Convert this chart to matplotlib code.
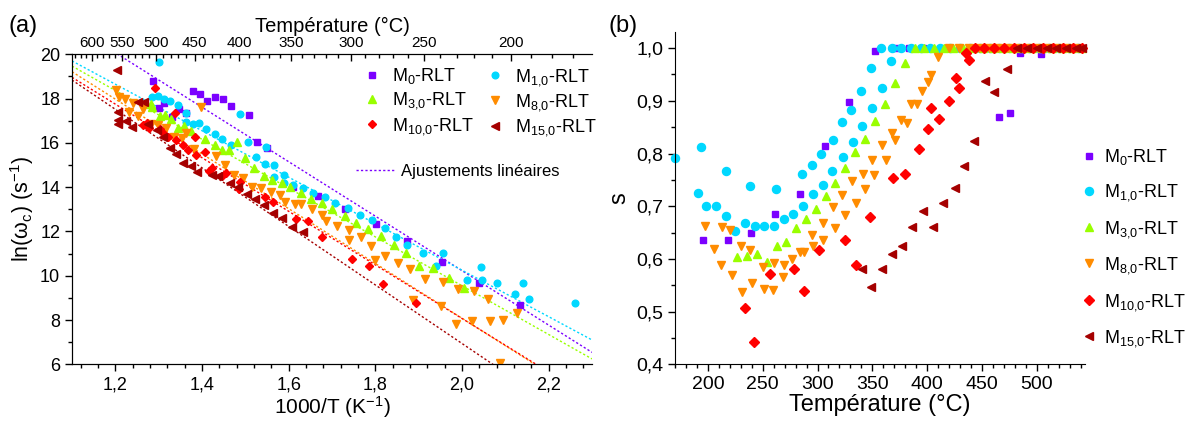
import matplotlib
matplotlib.use('Agg')
import matplotlib.pyplot as plt
from matplotlib.ticker import MultipleLocator, FuncFormatter, FixedLocator
from matplotlib.lines import Line2D
import numpy as np

plt.rcParams['font.family'] = ['Liberation Sans', 'DejaVu Sans']
plt.rcParams['mathtext.default'] = 'regular'

# ---------------- data, panel (a): ln(wc) vs 1000/T ----------------
xa_m0 = [1.286, 1.300, 1.313, 1.331, 1.347, 1.364, 1.380, 1.395, 1.412, 1.431, 1.449, 1.468,
         1.508, 1.527, 1.550, 1.609, 1.668, 1.731, 1.801, 1.874, 1.953, 2.040, 2.134]
ya_m0 = [18.79, 17.58, 17.80, 17.17, 17.53, 17.36, 18.32, 18.20, 17.90, 18.07, 18.00, 17.65,
         17.26, 16.02, 15.75, 14.02, 13.61, 13.01, 12.33, 11.58, 10.63, 9.68, 8.69]

xa_m1 = [1.285, 1.298, 1.301, 1.312, 1.326, 1.344, 1.362, 1.363, 1.379, 1.392, 1.409, 1.429,
         1.447, 1.467, 1.488, 1.505, 1.525, 1.545, 1.548, 1.567, 1.567, 1.590, 1.590, 1.610,
         1.632, 1.657, 1.683, 1.708, 1.737, 1.765, 1.793, 1.822, 1.848, 1.873, 1.911, 1.940,
         1.957, 2.011, 2.043, 2.046, 2.080, 2.123, 2.141, 2.154, 2.261]
ya_m1 = [18.09, 18.12, 19.64, 17.98, 17.91, 17.71, 17.36, 16.93, 16.84, 16.88, 16.61, 16.40,
         16.16, 15.90, 17.30, 16.05, 15.38, 15.03, 15.80, 15.00, 14.47, 14.55, 14.17, 14.10,
         13.94, 13.72, 13.54, 13.27, 13.07, 12.74, 12.51, 12.14, 11.73, 11.38, 11.04, 10.44,
         11.04, 9.80, 10.40, 9.80, 9.68, 9.16, 9.68, 8.96, 8.78]

xa_m3 = [1.282, 1.285, 1.303, 1.314, 1.328, 1.345, 1.359, 1.375, 1.407, 1.430, 1.446, 1.463,
         1.480, 1.500, 1.519, 1.542, 1.561, 1.585, 1.604, 1.629, 1.652, 1.677, 1.700, 1.729,
         1.756, 1.784, 1.812, 1.842, 1.870, 1.901, 1.932, 1.969, 2.004]
ya_m3 = [17.77, 17.63, 17.23, 17.26, 17.08, 16.69, 16.76, 16.55, 16.16, 15.90, 15.68, 15.68,
         16.05, 15.30, 14.85, 14.50, 14.32, 14.17, 13.99, 13.75, 13.46, 13.27, 13.00, 12.70,
         12.39, 12.09, 11.79, 11.39, 11.01, 10.44, 10.33, 9.88, 9.43]

xa_m8 = [1.202, 1.208, 1.222, 1.232, 1.241, 1.253, 1.263, 1.282, 1.299, 1.318, 1.336, 1.353,
         1.363, 1.382, 1.398, 1.432, 1.453, 1.473, 1.494, 1.515, 1.537, 1.560, 1.581, 1.592,
         1.614, 1.629, 1.654, 1.677, 1.685, 1.712, 1.739, 1.739, 1.766, 1.791, 1.799, 1.822,
         1.853, 1.880, 1.886, 1.915, 1.951, 1.957, 1.987, 1.990, 2.022, 2.028, 2.061, 2.064,
         2.088, 2.094, 2.127]
ya_m8 = [18.41, 18.09, 17.98, 17.41, 17.78, 17.23, 17.51, 16.85, 16.81, 16.65, 16.28, 16.20,
         16.43, 15.71, 17.60, 15.40, 14.99, 14.55, 14.40, 14.02, 13.97, 13.79, 13.64, 13.34,
         13.24, 13.22, 13.00, 12.74, 12.47, 12.24, 12.06, 11.61, 11.73, 11.34, 10.71, 10.89,
         10.56, 10.29, 8.90, 9.83, 8.63, 9.73, 7.82, 9.38, 7.97, 9.31, 8.95, 7.95,
         6.04, 8.00, 8.30]

xa_m10 = [1.264, 1.274, 1.277, 1.291, 1.303, 1.311, 1.322, 1.338, 1.339, 1.357, 1.368, 1.384,
          1.386, 1.407, 1.416, 1.423, 1.447, 1.456, 1.485, 1.488, 1.546, 1.563, 1.617, 1.645,
          1.676, 1.746, 1.786, 1.818, 1.893]
ya_m10 = [16.81, 16.91, 16.66, 18.46, 16.61, 16.43, 16.25, 17.36, 16.13, 15.90, 15.68, 16.25,
          15.45, 15.60, 14.74, 14.85, 14.50, 14.62, 13.91, 14.24, 13.57, 13.34, 12.54, 12.48,
          11.73, 10.75, 10.46, 9.62, 8.75]

xa_m15 = [1.204, 1.207, 1.207, 1.207, 1.224, 1.239, 1.253, 1.265, 1.276, 1.295, 1.311, 1.325,
          1.341, 1.356, 1.375, 1.389, 1.423, 1.438, 1.465, 1.484, 1.504, 1.523, 1.542, 1.563,
          1.585, 1.608, 1.632]
ya_m15 = [19.28, 17.41, 17.03, 16.85, 17.00, 16.70, 17.86, 17.83, 16.85, 16.58, 16.25, 15.75,
          15.50, 15.07, 14.95, 14.70, 14.55, 14.50, 14.17, 14.02, 13.69, 13.45, 13.19, 12.82,
          12.59, 12.22, 11.97]

# linear fits ln(wc) = a + b * 1000/T
fit_a = [34.83, 31.25, 31.59, 32.82, 32.27, 33.38]
fit_b = [-12.30, -10.50, -11.02, -12.37, -12.10, -13.22]

# top axis temperatures (deg C)
temp_major = [200, 250, 300, 350, 400, 450, 500, 550, 600]
temp_minor = [170, 180, 190, 210, 220, 230, 240, 260, 270, 280, 290, 310, 320, 330, 340,
              360, 370, 380, 390, 410, 420, 430, 440, 460, 470, 480, 490, 510, 520, 530,
              540, 560, 570, 580, 590, 610, 620, 630]

# ---------------- data, panel (b): s vs temperature ----------------
tb_m0 = [195.5, 218, 239.5, 261.5, 284, 307, 329, 352, 372, 383, 396, 418, 440, 466, 476,
         485, 504, 522, 540]
sb_m0 = [0.636, 0.636, 0.650, 0.686, 0.724, 0.814, 0.898, 0.994, 1.0, 1.0, 1.0, 1.0, 1.0,
         0.870, 0.876, 0.991, 0.989, 1.0, 1.0]

tb_m1 = [170, 190.8, 194, 198, 207, 216.4, 216.4, 224.6, 233.6, 238.6, 242.7, 250.8, 259.9,
         262, 269, 278, 285.5, 286.4, 294.6, 295.5, 303.6, 304.6, 313.6, 314, 322, 323, 331,
         332, 340, 340.5, 349, 350, 358, 359, 367, 367.5, 376, 385, 394, 403, 412, 421, 430,
         439, 448, 457, 466, 475, 484, 493, 502, 511, 520, 529, 538]
sb_m1 = [0.791, 0.726, 0.812, 0.701, 0.701, 0.766, 0.681, 0.653, 0.669, 0.738, 0.663, 0.662,
         0.663, 0.732, 0.675, 0.685, 0.761, 0.700, 0.778, 0.723, 0.800, 0.741, 0.767, 0.825,
         0.859, 0.794, 0.882, 0.821, 0.918, 0.852, 0.963, 0.887, 1.0, 0.925, 0.976, 1.0, 1.0,
         1.0, 1.0, 1.0, 1.0, 1.0, 1.0, 1.0, 1.0, 1.0, 1.0, 1.0, 1.0, 1.0, 1.0, 1.0, 1.0, 1.0,
         1.0]

tb_m3 = [226.8, 235.6, 244.6, 254.3, 263, 271.1, 280.2, 289.2, 298.6, 307.3, 316, 325,
         334.5, 343.5, 352.5, 361.5, 370.5, 379.5, 388.5, 397, 406, 415, 424, 433, 442, 451,
         460, 469, 478, 487, 496, 505, 514, 523, 532, 541]
sb_m3 = [0.603, 0.605, 0.609, 0.595, 0.624, 0.632, 0.659, 0.676, 0.695, 0.720, 0.744, 0.772,
         0.802, 0.828, 0.862, 0.894, 0.933, 0.971, 1.0, 1.0, 1.0, 1.0, 1.0, 1.0, 1.0, 1.0,
         1.0, 1.0, 1.0, 1.0, 1.0, 1.0, 1.0, 1.0, 1.0, 1.0]

tb_m8 = [197, 205.6, 212, 212.7, 220.6, 222, 229.8, 230.8, 238.6, 240, 250.7, 251, 259.6,
         260.5, 268.3, 269.5, 276.8, 283.6, 287.7, 294.8, 296, 305, 305, 314, 315.5, 322,
         325.5, 331.5, 335.2, 341.5, 343.5, 350, 351.5, 358.5, 362.5, 368, 371, 376.5, 382,
         385.5, 391, 395, 400.5, 403.5, 410, 419.5, 429, 438, 447, 456, 465, 474, 483, 492,
         501, 510, 519, 528, 537]
sb_m8 = [0.662, 0.618, 0.589, 0.660, 0.655, 0.569, 0.625, 0.538, 0.617, 0.555, 0.585, 0.543,
         0.541, 0.592, 0.566, 0.589, 0.600, 0.614, 0.614, 0.645, 0.625, 0.668, 0.635, 0.699,
         0.658, 0.721, 0.683, 0.748, 0.706, 0.761, 0.733, 0.787, 0.759, 0.817, 0.787, 0.839,
         0.826, 0.864, 0.857, 0.893, 0.894, 0.919, 0.935, 0.949, 0.983, 1.0, 1.0, 1.0, 1.0,
         1.0, 1.0, 1.0, 1.0, 1.0, 1.0, 1.0, 1.0, 1.0, 1.0]

tb_m10 = [233.9, 242.4, 256.5, 278.6, 288, 301, 325.5, 335, 347.5, 368.5, 379.5, 392.3, 401.2,
          403.5, 410.5, 419.8, 426.6, 429.1, 435.9, 438.4, 443.5, 452, 461, 470, 479, 488,
          497, 506, 515, 524, 533, 541]
sb_m10 = [0.507, 0.442, 0.571, 0.580, 0.539, 0.616, 0.636, 0.589, 0.679, 0.753, 0.762, 0.808,
          0.847, 0.886, 0.866, 0.899, 0.944, 0.924, 0.990, 0.977, 1.0, 1.0, 1.0, 1.0, 1.0, 1.0,
          1.0, 1.0, 1.0, 1.0, 1.0, 1.0]

tb_m15 = [340.3, 348.6, 358.9, 367.9, 377.2, 386.5, 395.8, 405.1, 414.1, 425, 433.3, 442.9,
          453.2, 461.2, 472.4, 482, 491, 500, 509, 518, 527, 536, 541]
sb_m15 = [0.581, 0.546, 0.581, 0.609, 0.624, 0.660, 0.691, 0.660, 0.707, 0.734, 0.777, 0.823,
          0.937, 0.916, 0.960, 1.0, 1.0, 1.0, 1.0, 1.0, 1.0, 1.0, 1.0]

labels = ['M$_0$-RLT', 'M$_{1{,}0}$-RLT', 'M$_{3{,}0}$-RLT',
          'M$_{8{,}0}$-RLT', 'M$_{10{,}0}$-RLT', 'M$_{15{,}0}$-RLT']
colors = ['#7b00ff', '#00d8ff', '#99ff00', '#ff8c00', '#ff0000', '#a50000']
markers = ['s', 'o', '^', 'v', 'D', '<']
ms_a = [4.2, 4.8, 5.2, 5.2, 4.0, 5.2]
ms_b = [5.0, 5.8, 6.4, 6.4, 5.0, 6.4]

comma = FuncFormatter(lambda v, p: f'{v:.1f}'.replace('.', ','))

fig = plt.figure(figsize=(11.86, 4.21), dpi=100)

# ---------------- panel (a) ----------------
axA = fig.add_axes([72 / 1186, 56.7 / 421, 520 / 1186, 310 / 421])
xs_a = [xa_m0, xa_m1, xa_m3, xa_m8, xa_m10, xa_m15]
ys_a = [ya_m0, ya_m1, ya_m3, ya_m8, ya_m10, ya_m15]

xfit = np.array([1.1, 2.3])
for a, b, c in zip(fit_a, fit_b, colors):
    axA.plot(xfit, a + b * xfit, ls=(0, (1.6, 1.6)), lw=1.0, color=c, zorder=1)

handles_a = []
for x, y, c, m, ms, lab in zip(xs_a, ys_a, colors, markers, ms_a, labels):
    h, = axA.plot(x, y, ls='none', marker=m, ms=ms, color=c, mec=c, label=lab, zorder=3)
    handles_a.append(h)

axA.set_xlim(1.1, 2.3)
axA.set_ylim(6, 20)
axA.xaxis.set_major_locator(MultipleLocator(0.2))
axA.xaxis.set_minor_locator(MultipleLocator(0.04))
axA.xaxis.set_major_formatter(comma)
axA.yaxis.set_major_locator(MultipleLocator(2))
axA.yaxis.set_minor_locator(MultipleLocator(1))
axA.tick_params(which='both', direction='out', labelsize=13, width=1)
axA.tick_params(which='major', length=5)
axA.tick_params(which='minor', length=3)
axA.spines['right'].set_visible(False)
axA.set_xlabel('1000/T (K$^{-1}$)', fontsize=15, labelpad=1)
axA.set_ylabel('ln(ω$_c$) (s$^{-1}$)', fontsize=15.5, labelpad=3)

axT = axA.twiny()
axT.set_xlim(axA.get_xlim())
axT.xaxis.set_major_locator(FixedLocator([1000 / (t + 273.15) for t in temp_major]))
axT.xaxis.set_major_formatter(FuncFormatter(lambda v, p: f'{1000 / v - 273.15:.0f}'))
axT.xaxis.set_minor_locator(FixedLocator([1000 / (t + 273.15) for t in temp_minor]))
axT.tick_params(which='both', direction='in', labelsize=11, width=1, pad=3)
axT.tick_params(which='major', length=5)
axT.tick_params(which='minor', length=3)
axT.spines['right'].set_visible(False)
axT.set_xlabel('Température (°C)', fontsize=14.5, labelpad=3)

leg1 = axA.legend([handles_a[i] for i in (0, 2, 4, 1, 3, 5)],
                  [labels[i] for i in (0, 2, 4, 1, 3, 5)],
                  ncol=2, frameon=False, fontsize=13, handlelength=1.0,
                  handletextpad=0.6, columnspacing=0.7, labelspacing=0.25,
                  borderpad=0, borderaxespad=0, loc='upper left',
                  bbox_to_anchor=(363 / 1186, 1 - 66 / 421),
                  bbox_transform=fig.transFigure)
axA.add_artist(leg1)
fit_handle = Line2D([], [], ls=(0, (1.6, 1.6)), lw=1.0, color=colors[0])
axA.legend([fit_handle], ['Ajustements linéaires'], frameon=False, fontsize=12,
           handlelength=2.4, handletextpad=0.3, borderpad=0, borderaxespad=0,
           loc='upper left', bbox_to_anchor=(356 / 1186, 1 - 164 / 421),
           bbox_transform=fig.transFigure)

fig.text(8 / 1186, 1 - 26 / 421, '(a)', fontsize=17, va='center', ha='left')

# ---------------- panel (b) ----------------
axB = fig.add_axes([675 / 1186, 56.7 / 421, 410 / 1186, 332 / 421])
ts_b = [tb_m0, tb_m1, tb_m3, tb_m8, tb_m10, tb_m15]
ss_b = [sb_m0, sb_m1, sb_m3, sb_m8, sb_m10, sb_m15]
handles_b = []
for t, s, c, m, ms, lab in zip(ts_b, ss_b, colors, markers, ms_b, labels):
    h, = axB.plot(t, s, ls='none', marker=m, ms=ms, color=c, mec=c, label=lab,
                  clip_on=False)
    handles_b.append(h)

axB.set_xlim(170, 544)
axB.set_ylim(0.4, 1.03)
axB.xaxis.set_major_locator(MultipleLocator(50))
axB.xaxis.set_minor_locator(MultipleLocator(10))
axB.yaxis.set_major_locator(MultipleLocator(0.1))
axB.yaxis.set_minor_locator(MultipleLocator(0.05))
axB.yaxis.set_major_formatter(comma)
axB.tick_params(which='both', direction='out', labelsize=14, width=1)
axB.tick_params(which='major', length=5)
axB.tick_params(which='minor', length=3)
axB.spines['right'].set_visible(False)
axB.spines['top'].set_visible(False)
axB.set_xlabel('Température (°C)', fontsize=17, labelpad=1)
axB.set_ylabel('s', fontsize=17, labelpad=4)

fig.legend(handles_b, labels, frameon=False, fontsize=13, handlelength=1.0,
           handletextpad=0.35, labelspacing=0.86, borderpad=0, borderaxespad=0,
           loc='upper left', bbox_to_anchor=(1080 / 1186, 1 - 147 / 421))

fig.text(608 / 1186, 1 - 26 / 421, '(b)', fontsize=17, va='center', ha='left')

fig.savefig('out.png', dpi=100)
